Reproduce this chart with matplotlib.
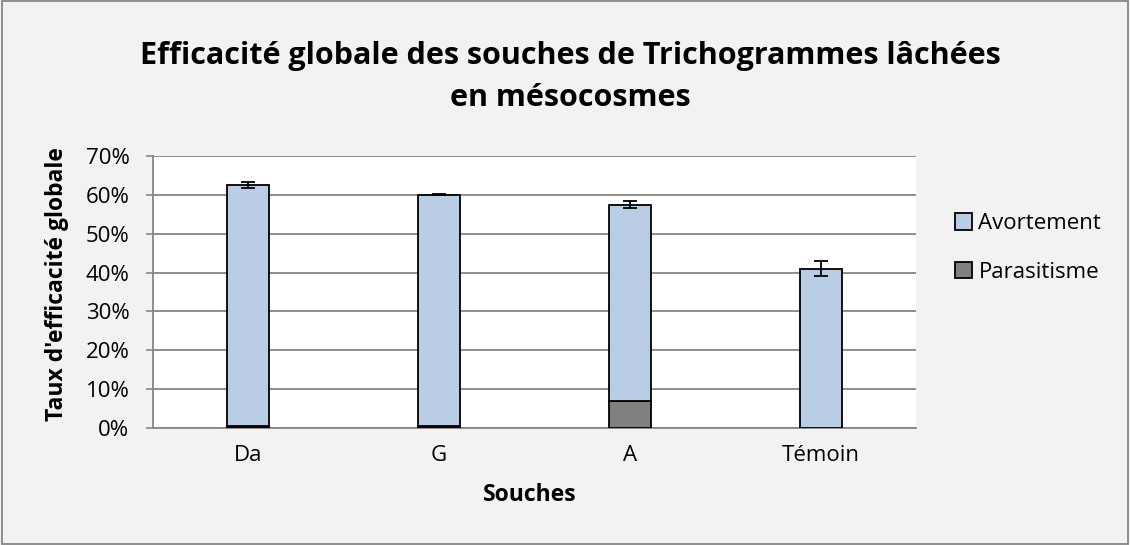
import matplotlib.pyplot as plt
import numpy as np
from matplotlib.patches import Rectangle

# données (en %)
souches = ['Da', 'G', 'A', 'Témoin']
parasitisme = [0.4, 0.5, 6.9, 0.0]
total = [62.6, 60.0, 57.5, 41.0]
avortement = [t - p for t, p in zip(total, parasitisme)]
erreur = [0.8, 0.1, 0.9, 1.9]

plt.rcParams['font.family'] = ['Open Sans', 'DejaVu Sans']

W, H = 1130, 545
fig = plt.figure(figsize=(W / 100, H / 100), dpi=100, facecolor='#f2f2f2')
ax = fig.add_axes([153 / W, 1 - 428 / H, (916 - 153) / W, (428 - 156) / H])
ax.set_facecolor('white')

x = np.arange(len(souches))
larg = 0.22
ax.bar(x, parasitisme, larg, color='#808080', edgecolor='black', linewidth=1.3,
       label='Parasitisme', zorder=3)
ax.bar(x, avortement, larg, bottom=parasitisme, color='#b9cde5', edgecolor='black',
       linewidth=1.3, label='Avortement', zorder=3)
ax.errorbar(x, total, yerr=erreur, fmt='none', ecolor='black', elinewidth=1.3,
            capsize=5, capthick=1.3, zorder=4)

ax.set_xlim(-0.5, len(souches) - 0.5)
ax.set_ylim(0, 70)
ax.set_yticks(np.arange(0, 71, 10))
ax.set_yticklabels([f'{v}%' for v in range(0, 71, 10)], fontsize=16)
ax.set_xticks(x)
ax.set_xticklabels(souches, fontsize=16)
ax.tick_params(axis='x', length=0, pad=12)
ax.tick_params(axis='y', length=5, width=1.2, color='#868686', pad=12)
ax.yaxis.grid(True, color='#868686', linewidth=1.3, zorder=0)
for s in ['top', 'right']:
    ax.spines[s].set_visible(False)
for s in ['left', 'bottom']:
    ax.spines[s].set_color('#868686')
    ax.spines[s].set_linewidth(1.3)

fig.text(530 / W, 1 - 495 / H, 'Souches', ha='center', va='center',
         fontsize=16.5, fontweight='bold')
fig.text(57 / W, 1 - 284 / H, "Taux d'efficacité globale", ha='center', va='center',
         rotation=90, fontsize=16.5, fontweight='bold')

fig.text(570 / W, 1 - 77 / H,
         'Efficacité globale des souches de Trichogrammes lâchées\nen mésocosmes',
         ha='center', va='center', fontsize=22, fontweight='bold', linespacing=1.5)

h, l = ax.get_legend_handles_labels()
leg = fig.legend(h[::-1], l[::-1], loc='center left', bbox_to_anchor=(944 / W, 1 - 248 / H),
                 frameon=False, fontsize=16, handlelength=0.75, handleheight=0.75,
                 handletextpad=0.3, labelspacing=1.25, borderpad=0)

fig.patches.append(Rectangle((2 / W, 1 / H), 1 - 4 / W, 1 - 2 / H,
                             transform=fig.transFigure, fill=False,
                             edgecolor='#868686', linewidth=1.3))

plt.savefig('out.png', dpi=100, facecolor=fig.get_facecolor())
